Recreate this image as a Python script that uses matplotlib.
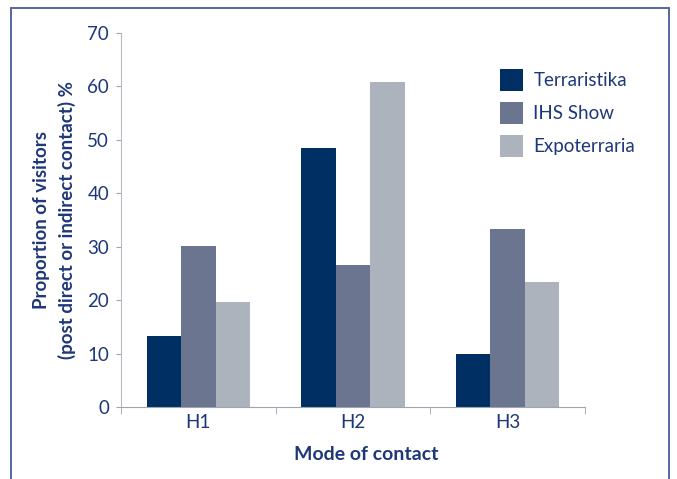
import matplotlib.pyplot as plt
import numpy as np
from matplotlib.patches import Rectangle

plt.rcParams['font.family'] = ['Lato', 'DejaVu Sans']

categories = ['H1', 'H2', 'H3']
terraristika = [13.3, 48.5, 9.9]
ihs_show = [30.1, 26.6, 33.3]
expoterraria = [19.6, 60.8, 23.4]

navy = '#002f63'
mid = '#6b7590'
light = '#adb3bd'
txt = '#1e3778'

fig = plt.figure(figsize=(6.77, 4.79), dpi=100)
ax = fig.add_axes([0.1787, 0.1503, 0.6853, 0.7808])

# frame around the chart
fig.patches.append(Rectangle((11 / 677, -0.1), 658 / 677, 1.1 - 8 / 479,
                             transform=fig.transFigure, fill=False,
                             edgecolor='#4a5a98', linewidth=1.3))

x = np.arange(len(categories))
w = 0.223
ax.bar(x - w, terraristika, w, color=navy, label='Terraristika')
ax.bar(x, ihs_show, w, color=mid, label='IHS Show')
ax.bar(x + w, expoterraria, w, color=light, label='Expoterraria')

ax.set_xlim(-0.5, 2.5)
ax.set_ylim(0, 70)
ax.set_yticks(range(0, 71, 10))
ax.set_xticks(x)
ax.set_xticklabels(categories)
ax.set_xticks([-0.5, 0.5, 1.5, 2.5], minor=True)
ax.tick_params(axis='x', which='major', length=0, labelsize=13.5, labelcolor=txt, pad=5)
ax.tick_params(axis='x', which='minor', length=5, color='#a0a4b0')
ax.tick_params(axis='y', length=3.6, color='#a0a4b0', labelsize=13.5, labelcolor=txt, pad=5)

for s in ['top', 'right']:
    ax.spines[s].set_visible(False)
ax.spines['left'].set_color('#b8bcc6')
ax.spines['bottom'].set_color('#a0a4b0')

ax.set_ylabel('Proportion of visitors\n(post direct or indirect contact) %',
              fontsize=13.5, fontweight='bold', color=txt, labelpad=8, linespacing=1.55)
ax.set_xlabel('Mode of contact', fontsize=14, fontweight='bold', color=txt)
ax.xaxis.set_label_coords(0.528, -0.105)

leg = ax.legend(loc='upper left', bbox_to_anchor=(500 / 677, 1 - 69 / 479),
                bbox_transform=fig.transFigure, frameon=False, borderpad=0,
                borderaxespad=0, fontsize=13.5, handlelength=1.23, handleheight=1.42,
                handletextpad=0.55, labelspacing=0.6)
for t in leg.get_texts():
    t.set_color(txt)

fig.savefig('out.png', dpi=100)
